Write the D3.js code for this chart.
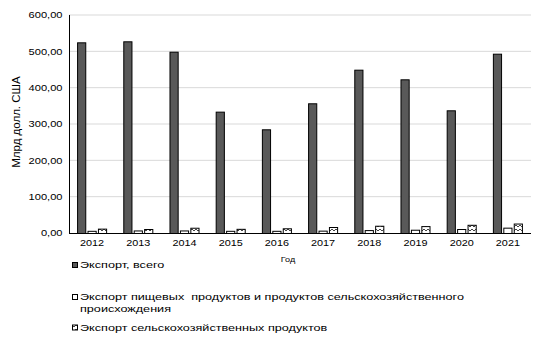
<!DOCTYPE html>
<html><head><meta charset="utf-8">
<script src="https://cdn.jsdelivr.net/npm/d3@7"></script>
<style>body{margin:0;background:#fff}svg{display:block}text{font-family:Arial,"Liberation Sans",sans-serif;fill:#000}</style>
</head><body><div id="chart"></div>
<script>
const years = ["2012","2013","2014","2015","2016","2017","2018","2019","2020","2021"];
const exportTotal = [524.8, 527.6, 499.0, 334.0, 285.4, 357.0, 449.5, 423.0, 337.7, 493.5];
const exportFood = [6.0, 7.0, 7.0, 6.0, 6.0, 6.5, 8.0, 9.0, 11.0, 14.7];
const exportAgri = [12.0, 11.0, 14.5, 11.5, 13.0, 16.5, 20.0, 19.0, 22.6, 26.0];
const yTicks = [0, 100, 200, 300, 400, 500, 600];
const seriesNames = ["Экспорт, всего",
  "Экспорт пищевых  продуктов и продуктов сельскохозяйственного\nпроисхождения",
  "Экспорт сельскохозяйственных продуктов"];

const W = 543, H = 356, SX = 1.29;
const svg = d3.select("#chart").append("svg").attr("width", W).attr("height", H);
const defs = svg.append("defs");
const pat = defs.append("pattern").attr("id","zz").attr("patternUnits","userSpaceOnUse")
  .attr("width",4).attr("height",4);
pat.append("rect").attr("width",4).attr("height",4).attr("fill","#fff");
pat.append("path").attr("d","M0,1 L2,3 L4,1").attr("stroke","#444").attr("stroke-width",1).attr("fill","none");

const x0 = d3.scaleBand().domain(years).range([69, 531]).paddingInner(0.35).paddingOuter(0.175);
const x1 = d3.scaleBand().domain([0,1,2]).range([0, x0.bandwidth()]).paddingInner(0.12);
const y = d3.scaleLinear().domain([0, 600]).range([233, 15]);

function stext(g, x, yy, str, size, anchor){
  const t = g.append("g").attr("transform", `translate(${x},${yy}) scale(${SX},1)`)
    .append("text").attr("font-size", size).attr("text-anchor", anchor || "start")
    .style("white-space","pre").text(str);
  return t;
}

// gridlines
svg.append("g").selectAll("line").data(yTicks.filter(d=>d>0)).join("line")
  .attr("x1", 69).attr("x2", 531).attr("y1", d=>y(d)).attr("y2", d=>y(d))
  .attr("stroke", "#d9d9d9").attr("stroke-width", 1);

// y tick labels
const fmt = d => d3.format(".2f")(d).replace(".", ",");
const yl = svg.append("g");
yTicks.forEach(d => stext(yl, 62.5, y(d) + 3.2, fmt(d), 8.6, "end"));

// bars
const series = [exportTotal, exportFood, exportAgri];
const fills = ["#595959", "#ffffff", "url(#zz)"];
const bars = svg.append("g");
series.forEach((vals, si) => {
  bars.selectAll(null).data(vals).join("rect")
    .attr("x", (d,i) => x0(years[i]) + x1(si) + 0.5)
    .attr("y", d => y(d) + 0.5)
    .attr("width", x1.bandwidth() - 1)
    .attr("height", d => y(0) - y(d))
    .attr("fill", fills[si]).attr("stroke", "#000").attr("stroke-width", 1);
});

// axes lines
svg.append("line").attr("x1",69.5).attr("x2",69.5).attr("y1",15).attr("y2",233).attr("stroke","#000");
svg.append("line").attr("x1",69).attr("x2",531).attr("y1",233.5).attr("y2",233.5).attr("stroke","#000");

// x tick labels
const xl = svg.append("g");
years.forEach(yr => stext(xl, x0(yr) + x0.bandwidth()/2, 245.5, yr, 8.4, "middle"));

// axis titles
stext(svg, 288, 262, "Год", 7, "middle");
svg.append("text").attr("transform","translate(20,122) rotate(-90)").attr("text-anchor","middle")
  .attr("font-size", 11.5).text("Млрд долл. США");

// legend
const leg = svg.append("g");
const legY = [268, 300, 330.5];
seriesNames.forEach((nm, i) => {
  leg.append("rect").attr("x", 72.5).attr("y", legY[i] - 5.5).attr("width", 5).attr("height", 5)
    .attr("fill", fills[i]).attr("stroke", "#000").attr("stroke-width", 1);
  nm.split("\n").forEach((ln, j) => stext(leg, 80, legY[i] + j*12, ln, 9.8, "start"));
});
</script></body></html>
